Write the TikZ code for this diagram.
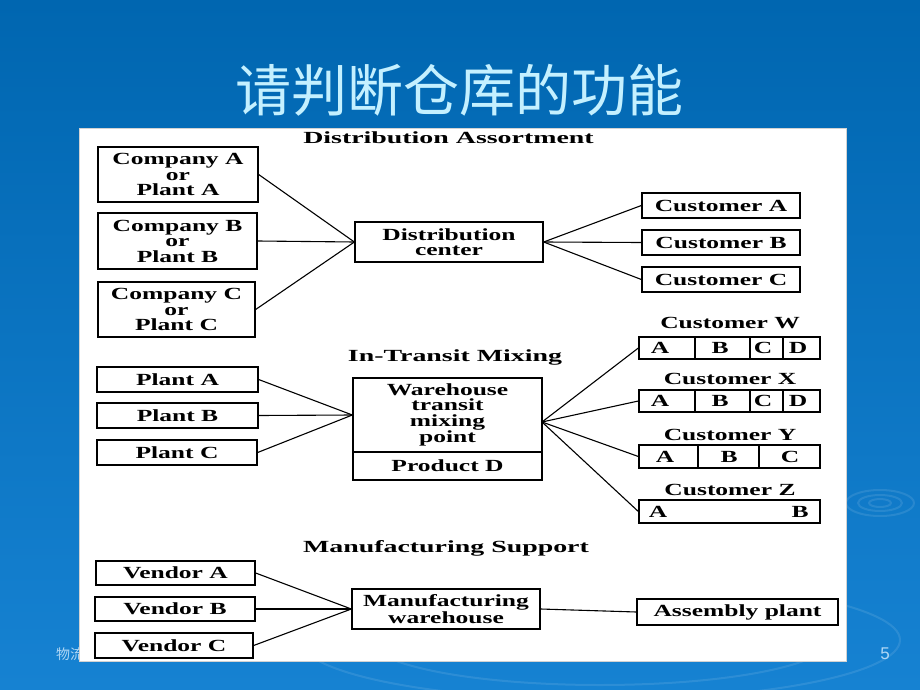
\documentclass[tikz,border=0pt]{standalone}
\usepackage{fontspec}
\newfontfamily\cjk{Noto Sans CJK SC}
\newfontfamily\diagfont[FakeStretch=1.5]{Liberation Serif}
\newfontfamily\headfont[FakeStretch=1.64]{Liberation Serif}
\newfontfamily\slidesans{Liberation Sans}
\definecolor{bgtop}{RGB}{0,102,176}
\definecolor{bgbot}{RGB}{22,130,210}
\definecolor{titlecol}{RGB}{196,240,255}
\definecolor{footcol}{RGB}{175,215,245}
\tikzset{
  box/.style={draw=black, line width=1.3pt, fill=white, inner sep=0pt, align=center, text=black,
    font=\diagfont\bfseries\fontsize{17}{15.5}\selectfont},
  lbl/.style={inner sep=0pt, text=black, font=\diagfont\bfseries\fontsize{17}{15.5}\selectfont},
  head/.style={inner sep=0pt, text=black, font=\headfont\bfseries\fontsize{17}{17}\selectfont},
  link/.style={line width=1.1pt, draw=black},
  divider/.style={line width=1.1pt, draw=black},
  ripple/.style={draw=white, opacity=0.10, line width=2pt},
}
\begin{document}
\begin{tikzpicture}[x=1pt,y=-1pt]
\useasboundingbox (0,0) rectangle (920,690);
% background
\shade[top color=bgtop, bottom color=bgbot] (0,0) rectangle (920,690);
\draw[ripple] (880,503) ellipse (34 and 13);
\draw[ripple] (880,503) ellipse (22 and 8);
\draw[ripple] (880,503) ellipse (11 and 4);
\draw[ripple] (600,640) ellipse (300 and 60);
\draw[ripple] (600,640) ellipse (230 and 45);
% title
\node[inner sep=0pt, text=titlecol, font=\cjk\fontsize{56}{56}\selectfont] (title) at (459.5,90) {请判断仓库的功能};
% footer
\node[anchor=west, inner sep=0pt, text=footcol, font=\cjk\fontsize{14}{14}\selectfont] (foot) at (56,654) {物流};
\node[inner sep=0pt, text=footcol, font=\slidesans\fontsize{17}{17}\selectfont] (pgnum) at (885,654) {5};
% panel
\fill[white] (79,128) rectangle (846,661);
\draw[gray!35, line width=0.6pt] (79,128) rectangle (846,661);

% ===== Distribution Assortment =====
\node[head] (h1) at (448.5,138) {Distribution Assortment};
\node[box, minimum width=160pt, minimum height=55pt] (ca) at (178,174.5) {Company A\\or\\Plant A};
\node[box, minimum width=159pt, minimum height=56pt] (cb) at (177.5,241) {Company B\\or\\Plant B};
\node[box, minimum width=157pt, minimum height=55pt] (cc) at (176.5,309.5) {Company C\\or\\Plant C};
\node[box, minimum width=188pt, minimum height=40pt] (dc) at (449,242) {Distribution\\center};
\node[box, minimum width=158pt, minimum height=25pt] (cua) at (721,205.5) {Customer A};
\node[box, minimum width=158pt, minimum height=25pt] (cub) at (721,242.5) {Customer B};
\node[box, minimum width=158pt, minimum height=25pt] (cuc) at (721,279.5) {Customer C};
\draw[link] (ca.east) -- (dc.west);
\draw[link] (cb.east) -- (dc.west);
\draw[link] (cc.east) -- (dc.west);
\draw[link] (dc.east) -- (cua.west);
\draw[link] (dc.east) -- (cub.west);
\draw[link] (dc.east) -- (cuc.west);

% ===== In-Transit Mixing =====
\node[head] (h2) at (455,357) {In-Transit Mixing};
\node[box, minimum width=161pt, minimum height=25pt] (pa) at (177.5,379.5) {Plant A};
\node[box, minimum width=161pt, minimum height=25pt] (pb) at (177.5,415.5) {Plant B};
\node[box, minimum width=160pt, minimum height=25pt] (pc) at (177,452.5) {Plant C};
\node[box, minimum width=189pt, minimum height=74pt] (whtop) at (447.5,415) {Warehouse\\transit\\mixing\\point};
\node[box, minimum width=189pt, minimum height=28pt] (whbot) at (447.5,466) {Product D};
\coordinate (whout) at (542,422);
\draw[link] (pa.east) -- (whtop.west);
\draw[link] (pb.east) -- (whtop.west);
\draw[link] (pc.east) -- (whtop.west);

\node[lbl] (lw) at (730,323) {Customer W};
\node[box, minimum width=181pt, minimum height=22pt] (cw) at (729.5,348) {};
\draw[divider] (695,337) -- (695,359);
\draw[divider] (750,337) -- (750,359);
\draw[divider] (783,337) -- (783,359);
\node[lbl] (cwa) at (660,348) {A};
\node[lbl] (cwb) at (720,348) {B};
\node[lbl] (cwc) at (763,348) {C};
\node[lbl] (cwd) at (798,348) {D};

\node[lbl] (lx) at (730,379) {Customer X};
\node[box, minimum width=181pt, minimum height=22pt] (cx) at (729.5,401) {};
\draw[divider] (695,390) -- (695,412);
\draw[divider] (750,390) -- (750,412);
\draw[divider] (783,390) -- (783,412);
\node[lbl] (cxa) at (660,401) {A};
\node[lbl] (cxb) at (720,401) {B};
\node[lbl] (cxc) at (763,401) {C};
\node[lbl] (cxd) at (798,401) {D};

\node[lbl] (ly) at (730,435) {Customer Y};
\node[box, minimum width=181pt, minimum height=23pt] (cy) at (729.5,456.5) {};
\draw[divider] (698,445) -- (698,468);
\draw[divider] (759,445) -- (759,468);
\node[lbl] (cya) at (665,456.5) {A};
\node[lbl] (cyb) at (729,456.5) {B};
\node[lbl] (cyc) at (790,456.5) {C};

\node[lbl] (lz) at (730,490) {Customer Z};
\node[box, minimum width=181pt, minimum height=23pt] (cz) at (729.5,511.5) {};
\node[lbl] (cza) at (658,511.5) {A};
\node[lbl] (czb) at (800,511.5) {B};

\draw[link] (whout) -- (cw.west);
\draw[link] (whout) -- (cx.west);
\draw[link] (whout) -- (cy.west);
\draw[link] (whout) -- (cz.west);

% ===== Manufacturing Support =====
\node[head] (h3) at (446,548) {Manufacturing Support};
\node[box, minimum width=159pt, minimum height=24pt] (va) at (175.5,573) {Vendor A};
\node[box, minimum width=160pt, minimum height=24pt] (vb) at (175,609) {Vendor B};
\node[box, minimum width=158pt, minimum height=25pt] (vc) at (174,645.5) {Vendor C};
\node[box, minimum width=188pt, minimum height=40pt] (mw) at (446,609) {Manufacturing\\warehouse};
\node[box, minimum width=201pt, minimum height=26pt] (ap) at (737.5,612) {Assembly plant};
\draw[link] (va.east) -- (mw.west);
\draw[link] (vb.east) -- (mw.west);
\draw[link] (vc.east) -- (mw.west);
\draw[link] (mw.east) -- (ap.west);
\end{tikzpicture}
\end{document}
